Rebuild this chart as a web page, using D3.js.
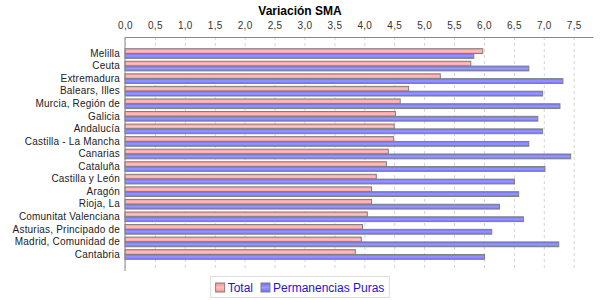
<!DOCTYPE html>
<html>
<head>
<meta charset="utf-8">
<script src="https://cdn.jsdelivr.net/npm/d3@7"></script>
<style>
  body { margin: 0; background: #fff; }
  #chart text { font-family: "Liberation Sans", Arial, sans-serif; }
</style>
</head>
<body>
<div id="chart"></div>
<script>
const regions = [
  "Melilla", "Ceuta", "Extremadura", "Balears, Illes", "Murcia, Región de",
  "Galicia", "Andalucía", "Castilla - La Mancha", "Canarias", "Cataluña",
  "Castilla y León", "Aragón", "Rioja, La", "Comunitat Valenciana",
  "Asturias, Principado de", "Madrid, Comunidad de", "Cantabria"
];
const total = [5.98, 5.78, 5.27, 4.74, 4.60, 4.52, 4.50, 4.49, 4.40, 4.37, 4.20, 4.12, 4.12, 4.05, 3.97, 3.95, 3.85];
const puras = [5.83, 6.75, 7.32, 6.98, 7.27, 6.90, 6.98, 6.75, 7.45, 7.02, 6.51, 6.58, 6.26, 6.66, 6.13, 7.25, 6.01];
const seriesNames = ["Total", "Permanencias Puras"];
const tickValues = d3.range(0, 7.51, 0.5);

const width = 600, height = 300;
const margin = { top: 37, right: 7, bottom: 29, left: 125 };
const plotW = width - margin.left - margin.right;
const plotH = height - margin.top - margin.bottom;

const svg = d3.select("#chart").append("svg")
  .attr("width", width).attr("height", height);

// gradients like the reference bars
const defs = svg.append("defs");
function grad(id, edge, mid) {
  const g = defs.append("linearGradient").attr("id", id)
    .attr("x1", 0).attr("x2", 0).attr("y1", 0).attr("y2", 1);
  g.append("stop").attr("offset", "0%").attr("stop-color", edge);
  g.append("stop").attr("offset", "50%").attr("stop-color", mid);
  g.append("stop").attr("offset", "100%").attr("stop-color", edge);
}
grad("gTotal", "#ff8c8c", "#ffc4c4");
grad("gPuras", "#6a6aff", "#9a9aff");
const fills = ["url(#gTotal)", "url(#gPuras)"];

svg.append("text")
  .attr("x", width / 2).attr("y", 15)
  .attr("text-anchor", "middle")
  .style("font-size", "12px").style("font-weight", "bold")
  .text("Variación SMA");

const g = svg.append("g").attr("transform", `translate(${margin.left},${margin.top})`);

const x = d3.scaleLinear()
  .domain([0, d3.max(puras.concat(total)) * 1.05])
  .range([0, plotW]);

// category spacing: 5% outer margins, 20% of the height split into gaps
const n = regions.length;
const catW = plotH * 0.7 / n, gapW = plotH * 0.2 / (n - 1);
const y = d3.scaleBand()
  .domain(regions)
  .range([plotH * 0.05, plotH * 0.95])
  .paddingInner(gapW / (catW + gapW))
  .paddingOuter(0);
const ySub = d3.scaleBand().domain([0, 1]).range([0, y.bandwidth()]);

// grid
g.append("g")
  .attr("class", "grid")
  .call(d3.axisTop(x).tickValues(tickValues).tickSize(-plotH).tickFormat(""))
  .call(s => s.select(".domain").remove())
  .call(s => s.selectAll("line").attr("stroke", "#d4d4d4").attr("stroke-dasharray", "3,3"));

// top axis
const xAxis = g.append("g")
  .call(d3.axisTop(x).tickValues(tickValues).tickSize(0).tickPadding(8)
    .tickFormat(d => d3.format(".1f")(d).replace(".", ",")));
xAxis.select(".domain").attr("stroke", "#888");
xAxis.selectAll("text").style("font-size", "10px").attr("fill", "#333").style("letter-spacing", "0.3px");

// bars
regions.forEach((r, i) => {
  [total[i], puras[i]].forEach((v, s) => {
    g.append("rect")
      .attr("x", x(0))
      .attr("y", y(r) + ySub(s))
      .attr("width", x(v) - x(0))
      .attr("height", ySub.bandwidth())
      .attr("fill", fills[s])
      .attr("stroke", "#808080")
      .attr("stroke-width", 1);
  });
});

// left axis
const yAxis = g.append("g")
  .call(d3.axisLeft(y).tickSize(0).tickPadding(5));
yAxis.select(".domain").attr("stroke", "#888").attr("d", `M0,0V${plotH}`);
yAxis.selectAll("text").style("font-size", "10px").attr("fill", "#222").style("letter-spacing", "0.2px");

// legend
const legend = svg.append("g");
const lg = legend.append("g");
let lx = 0;
seriesNames.forEach((name, s) => {
  const it = lg.append("g").attr("transform", `translate(${lx},0)`);
  it.append("rect").attr("x", 0).attr("y", -9).attr("width", 9).attr("height", 9)
    .attr("fill", fills[s]).attr("stroke", "#808080");
  const t = it.append("text").attr("x", 12).attr("y", 0)
    .style("font-size", "12px").attr("fill", "#2a10d0").text(name);
  lx += 12 + t.node().getComputedTextLength() + 8;
});
const lw = lx - 8;
lg.attr("transform", `translate(${(width - lw) / 2},${292})`);
legend.insert("rect", ":first-child")
  .attr("x", (width - lw) / 2 - 5).attr("y", 276.5)
  .attr("width", lw + 10).attr("height", 21)
  .attr("fill", "none").attr("stroke", "#ddd");
</script>
</body>
</html>
